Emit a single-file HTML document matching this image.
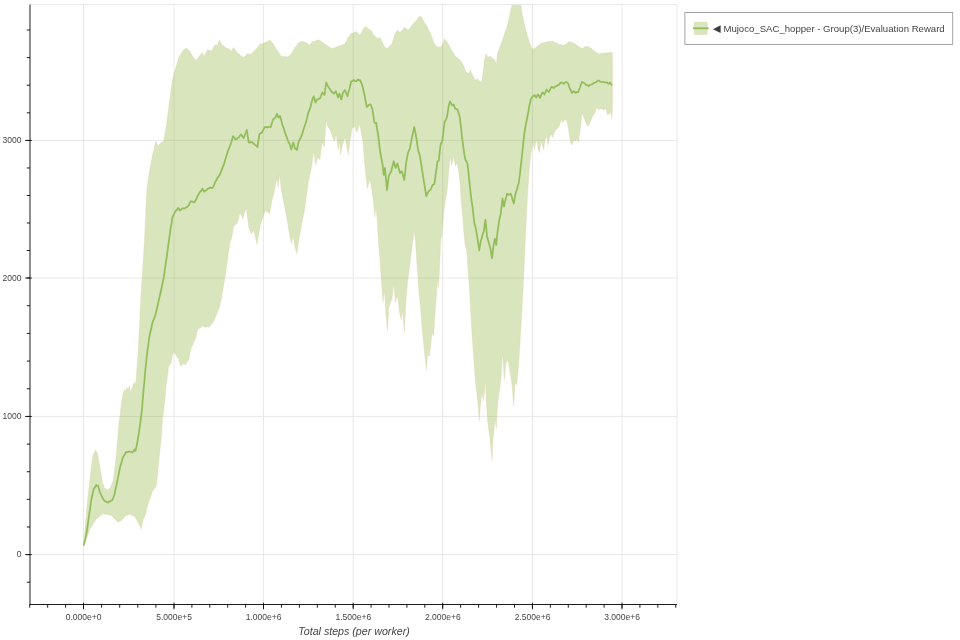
<!DOCTYPE html>
<html><head><meta charset="utf-8"><title>chart</title>
<style>
html,body{margin:0;padding:0;background:#fff;}
body{width:960px;height:640px;overflow:hidden;font-family:"Liberation Sans",sans-serif;}
svg{display:block;will-change:transform;}
text{font-family:"Liberation Sans",sans-serif;fill:#444444;}
.tl{font-size:8.53px;}
.al{font-size:10.67px;font-style:italic;}
.lg{font-size:9.6px;}
</style></head><body>
<svg width="960" height="640" viewBox="0 0 960 640">
<defs><clipPath id="fr"><rect x="30.00" y="4.50" width="647.00" height="600.00"/></clipPath></defs>
<rect x="0" y="0" width="960" height="640" fill="#ffffff"/>

<g stroke="#e5e5e5" stroke-width="0.9" fill="none">
<line x1="83.50" y1="4.5" x2="83.50" y2="604.5"/>
<line x1="174.00" y1="4.5" x2="174.00" y2="604.5"/>
<line x1="263.50" y1="4.5" x2="263.50" y2="604.5"/>
<line x1="353.20" y1="4.5" x2="353.20" y2="604.5"/>
<line x1="442.70" y1="4.5" x2="442.70" y2="604.5"/>
<line x1="532.45" y1="4.5" x2="532.45" y2="604.5"/>
<line x1="622.00" y1="4.5" x2="622.00" y2="604.5"/>
<line x1="30.0" y1="554.60" x2="677.0" y2="554.60"/>
<line x1="30.0" y1="416.45" x2="677.0" y2="416.45"/>
<line x1="30.0" y1="278.00" x2="677.0" y2="278.00"/>
<line x1="30.0" y1="140.45" x2="677.0" y2="140.45"/>
</g>
<g clip-path="url(#fr)">
<polygon points="83.50,545.50 84.50,534.05 85.50,522.95 86.50,511.39 87.50,500.00 88.75,489.34 90.00,478.18 91.25,467.50 92.12,461.21 93.00,455.00 94.25,452.24 95.50,450.00 96.50,451.42 97.50,453.00 98.75,460.23 100.00,467.50 101.25,475.12 102.50,482.50 103.38,484.91 104.25,487.50 105.33,488.62 106.42,489.08 107.50,490.50 108.50,489.15 109.50,488.51 110.50,487.50 111.42,485.07 112.33,482.80 113.25,480.00 114.25,471.73 115.25,463.46 116.25,455.00 117.50,439.94 118.75,425.00 119.67,417.38 120.60,410.00 121.25,404.82 121.90,400.00 123.10,393.75 123.75,391.39 124.40,389.40 125.60,391.25 126.25,389.25 126.90,387.50 128.10,390.00 128.75,387.51 129.40,385.60 130.25,391.90 131.07,390.56 131.90,388.75 133.10,384.40 134.00,382.50 135.25,384.40 136.25,377.50 136.90,367.50 137.50,360.00 138.10,352.50 138.75,340.00 139.62,321.36 140.50,302.50 141.50,286.32 142.50,270.00 143.50,255.06 144.50,240.00 145.62,214.97 146.75,190.00 148.00,181.16 149.25,172.50 150.33,166.70 151.42,160.82 152.50,155.00 153.58,150.66 154.67,145.95 155.75,141.25 156.88,143.40 158.00,146.25 159.08,144.74 160.17,143.38 161.25,142.50 162.50,141.83 163.75,140.50 165.00,133.27 166.25,126.00 167.50,116.38 168.75,107.00 170.00,97.62 171.25,88.00 172.50,80.00 173.75,74.87 175.00,70.00 176.25,65.98 177.50,61.85 178.75,57.50 180.00,55.17 181.25,53.37 182.50,51.25 183.75,50.04 185.00,48.84 186.25,48.00 187.50,49.31 188.75,50.27 190.00,51.25 191.25,53.79 192.50,56.25 193.58,57.50 194.67,59.06 195.75,60.00 196.75,59.36 197.75,58.23 198.75,57.00 199.83,55.32 200.92,54.27 202.00,52.50 203.25,54.54 204.50,56.25 205.50,53.85 206.50,51.66 207.50,49.50 208.75,50.15 210.00,50.28 211.25,51.25 212.50,49.35 213.75,46.70 215.00,45.00 216.25,44.75 217.50,45.50 218.50,42.79 219.50,40.00 220.62,42.21 221.75,44.50 222.83,45.69 223.92,45.71 225.00,47.00 226.25,47.98 227.50,48.55 228.75,48.75 230.00,49.74 231.25,51.25 232.50,49.03 233.75,47.50 235.00,49.41 236.25,51.25 237.50,52.96 238.75,53.82 240.00,55.00 241.25,56.17 242.50,56.73 243.75,57.50 244.83,56.33 245.92,55.47 247.00,53.75 248.00,53.71 249.00,53.91 250.00,54.50 251.25,53.64 252.50,52.63 253.75,51.25 255.00,49.92 256.25,48.90 257.50,47.50 258.75,46.00 260.00,43.75 261.25,43.88 262.50,43.61 263.75,43.00 265.00,42.75 266.25,42.00 267.33,41.51 268.42,40.69 269.50,40.00 270.50,40.71 271.50,42.16 272.50,43.00 273.50,44.11 274.50,46.23 275.50,47.50 276.58,49.50 277.67,50.78 278.75,52.50 280.00,54.49 281.25,56.25 282.50,56.44 283.75,56.76 285.00,56.25 286.00,56.93 287.00,56.85 288.00,57.00 289.08,56.11 290.17,55.01 291.25,54.50 292.50,51.81 293.75,49.43 295.00,47.50 296.25,46.24 297.50,43.95 298.75,42.50 300.00,42.15 301.25,41.54 302.50,41.25 303.75,41.78 305.00,42.43 306.25,42.50 307.33,43.45 308.42,44.15 309.50,45.00 310.50,43.97 311.50,42.67 312.50,41.25 313.75,41.49 315.00,41.19 316.25,40.50 317.50,39.90 318.75,40.00 320.00,40.28 321.25,41.61 322.50,42.00 323.75,43.28 325.00,43.88 326.25,45.00 327.50,45.50 328.75,46.59 330.00,47.50 331.25,48.03 332.50,48.75 333.75,47.76 335.00,47.72 336.25,47.00 337.50,46.29 338.75,46.27 340.00,45.50 341.12,44.97 342.25,45.38 343.38,44.37 344.50,44.50 345.50,42.18 346.50,41.04 347.50,38.75 348.58,36.76 349.67,35.79 350.75,33.75 352.00,33.15 353.25,32.83 354.50,32.00 355.75,31.76 357.00,32.00 358.00,33.12 359.00,34.17 360.00,35.50 361.00,33.67 362.00,31.74 363.00,29.50 364.25,27.71 365.50,26.25 366.75,27.28 368.00,28.75 369.08,29.22 370.17,29.64 371.25,30.50 372.50,33.15 373.75,35.00 375.00,36.11 376.25,37.31 377.50,38.75 378.75,37.83 380.00,37.50 381.25,39.65 382.50,42.50 383.38,44.69 384.25,46.25 385.17,47.55 386.08,47.83 387.00,48.75 388.25,47.55 389.50,46.25 390.50,45.40 391.50,44.21 392.50,42.50 393.50,38.42 394.50,35.00 395.50,33.09 396.50,31.86 397.50,30.00 398.75,31.42 400.00,32.50 401.25,31.01 402.50,30.00 403.75,28.35 405.00,27.00 406.00,28.61 407.00,29.40 408.00,30.50 409.08,29.06 410.17,28.08 411.25,26.25 412.50,24.87 413.75,23.03 415.00,22.00 416.00,21.08 417.00,19.66 418.00,18.00 418.92,16.96 419.83,16.61 420.75,16.25 421.75,17.51 422.75,19.98 423.75,21.25 424.83,23.29 425.92,24.65 427.00,26.25 428.00,28.62 429.00,30.81 430.00,32.50 431.25,35.49 432.50,38.75 433.75,42.01 435.00,45.00 436.25,45.68 437.50,47.00 438.75,46.82 440.00,47.50 441.25,46.00 442.50,44.50 443.50,41.76 444.50,38.75 445.50,40.00 446.50,41.13 447.50,42.50 448.75,44.80 450.00,47.50 451.00,48.91 452.00,50.55 453.00,52.50 454.08,53.85 455.17,55.89 456.25,57.00 457.50,58.08 458.75,59.09 460.00,60.00 461.25,61.87 462.50,63.75 463.75,66.32 465.00,69.27 466.25,72.50 467.50,72.79 468.75,73.75 469.62,71.65 470.50,70.00 471.50,72.63 472.50,75.00 473.75,77.26 475.00,80.00 476.25,79.72 477.50,78.75 478.75,80.17 480.00,81.25 480.88,82.11 481.75,82.00 482.50,76.21 483.25,70.00 484.50,60.00 485.75,53.75 486.88,55.37 488.00,57.00 489.25,56.81 490.50,56.25 491.75,57.93 493.00,58.75 494.00,59.02 495.00,60.00 496.25,65.00 497.50,53.75 498.75,49.90 500.00,46.25 501.25,43.47 502.50,40.00 503.75,36.11 505.00,32.50 506.25,28.98 507.50,25.00 508.75,19.06 510.00,13.75 511.00,9.03 512.00,4.25 513.00,0.51 514.00,-3.00 515.25,-4.82 516.50,-6.00 517.75,-4.84 519.00,-3.00 519.88,0.57 520.75,4.25 521.62,9.62 522.50,15.00 523.50,19.96 524.50,25.00 525.38,28.20 526.25,31.25 527.12,34.63 528.00,37.50 529.00,40.37 530.00,43.75 531.00,46.39 532.00,48.75 533.12,48.45 534.25,48.75 535.50,47.65 536.75,47.00 537.67,45.71 538.58,45.80 539.50,44.50 540.50,43.66 541.50,43.14 542.50,43.00 543.75,42.40 545.00,42.38 546.25,42.00 547.50,41.54 548.75,42.03 550.00,41.25 551.00,41.50 552.00,40.94 553.00,41.25 554.08,41.93 555.17,42.54 556.25,43.00 557.50,43.22 558.75,44.21 560.00,44.50 561.25,44.84 562.50,44.89 563.75,45.50 564.83,44.50 565.92,44.05 567.00,43.75 568.00,42.46 569.00,41.74 570.00,41.25 571.00,42.12 572.00,42.77 573.00,43.00 574.08,43.00 575.17,44.03 576.25,44.50 577.33,45.79 578.42,46.48 579.50,47.00 580.75,47.93 582.00,48.75 583.25,47.81 584.50,47.00 585.50,46.72 586.50,46.51 587.50,46.25 588.50,46.40 589.50,47.67 590.50,48.00 591.58,48.51 592.67,49.69 593.75,50.50 594.83,51.20 595.92,52.33 597.00,53.00 598.00,52.91 599.00,54.01 600.00,53.75 601.25,53.02 602.50,53.50 603.75,53.00 605.00,52.52 606.25,52.78 607.50,53.00 608.75,52.49 610.00,52.50 611.25,52.55 612.50,53.00 612.50,105.00 612.00,118.75 610.75,111.25 610.00,113.10 609.25,113.75 608.38,114.33 607.50,115.00 606.62,111.95 605.75,108.00 604.75,109.41 603.75,110.00 602.50,109.26 601.25,108.75 600.00,108.92 598.75,110.00 597.88,108.22 597.00,107.50 595.75,110.30 594.50,113.75 593.25,115.36 592.00,117.50 591.00,120.16 590.00,122.50 589.00,124.51 588.00,126.25 586.88,124.72 585.75,122.50 584.75,119.78 583.75,117.50 582.88,115.05 582.00,113.75 580.75,125.00 579.50,135.00 578.25,142.50 577.00,138.75 576.25,139.71 575.50,141.25 574.62,140.20 573.75,140.00 572.88,142.32 572.00,145.00 570.75,142.50 569.50,136.25 568.25,127.50 567.00,121.25 566.00,119.74 565.00,119.50 564.00,121.00 563.00,122.50 562.12,120.77 561.25,120.00 560.00,123.75 559.12,125.87 558.25,127.50 557.25,128.73 556.25,128.75 555.38,130.81 554.50,132.50 553.50,134.93 552.50,137.50 551.25,133.75 550.38,136.03 549.50,137.50 548.75,141.14 548.00,145.00 546.75,136.25 545.88,138.43 545.00,140.00 543.75,150.00 542.50,145.00 541.62,142.85 540.75,141.25 539.50,152.50 538.25,150.00 537.00,140.00 535.75,142.50 535.00,145.99 534.25,150.00 533.00,141.25 531.75,150.00 530.75,154.00 530.00,162.22 529.25,170.00 528.38,182.40 527.50,195.00 526.25,220.00 525.00,247.50 523.75,277.50 522.50,300.00 521.50,320.00 520.50,335.00 519.50,352.50 518.75,362.57 518.00,372.50 516.75,385.00 515.88,384.26 515.00,382.50 513.75,406.25 512.88,395.69 512.00,385.00 511.25,379.89 510.50,375.00 509.62,369.57 508.75,363.75 507.88,361.29 507.00,360.00 505.75,365.00 505.00,372.62 504.25,380.00 503.38,366.40 502.50,352.50 501.25,375.00 500.00,387.50 498.75,395.00 497.50,407.50 496.25,428.75 495.00,418.75 494.00,430.00 493.00,440.00 492.00,460.75 491.00,450.00 490.00,440.00 488.75,430.00 487.50,420.00 486.50,405.00 485.50,381.25 484.50,391.25 483.25,401.25 482.00,391.25 481.25,398.09 480.50,405.00 479.25,421.25 478.00,405.00 477.00,395.00 476.25,388.93 475.50,382.50 474.50,370.00 473.25,352.50 472.00,335.00 470.75,312.50 470.07,300.74 469.40,289.00 468.10,271.00 467.43,260.91 466.75,251.25 465.88,247.88 465.00,244.00 463.75,231.00 462.50,215.00 461.25,202.50 460.00,182.00 458.75,172.50 457.88,167.32 457.00,162.50 456.25,164.32 455.50,166.25 454.62,161.23 453.75,156.25 452.75,160.90 451.75,165.00 450.88,160.23 450.00,156.25 448.75,172.50 447.50,187.50 446.50,193.88 445.50,200.00 444.62,206.02 443.75,212.50 442.88,223.88 442.00,235.00 440.75,240.00 439.50,270.00 438.50,287.50 437.50,280.00 436.25,297.50 435.00,315.00 433.75,336.25 432.50,332.50 431.25,340.00 430.38,347.99 429.50,356.25 428.50,355.43 427.50,355.00 426.50,370.00 425.50,362.50 424.62,354.03 423.75,345.00 422.88,336.36 422.00,327.50 421.25,317.58 420.50,307.50 419.62,298.83 418.75,290.00 417.88,277.34 417.00,265.00 416.25,253.30 415.50,242.00 414.25,230.00 413.50,236.12 412.75,242.00 412.00,247.88 411.25,254.00 410.25,261.73 409.25,270.00 408.38,276.38 407.50,282.50 406.62,293.77 405.75,305.00 405.00,318.61 404.25,332.50 403.38,321.40 402.50,310.00 401.25,320.00 400.38,316.62 399.50,312.50 398.50,303.66 397.50,295.00 396.50,298.77 395.50,302.50 394.62,292.98 393.75,283.75 392.88,291.20 392.00,298.75 391.25,300.65 390.50,302.50 389.62,305.45 388.75,307.50 387.50,331.25 386.62,322.01 385.75,312.50 384.50,290.00 383.75,296.02 383.00,302.50 382.12,291.32 381.25,280.00 380.00,260.00 379.25,251.32 378.50,243.00 377.25,221.00 376.00,205.00 374.75,217.50 374.00,208.62 373.25,200.00 372.50,194.93 371.75,190.00 370.88,184.67 370.00,178.75 368.75,183.39 367.50,188.75 366.62,181.69 365.75,175.00 365.00,166.98 364.25,158.75 363.00,142.50 362.12,137.87 361.25,132.50 360.38,128.16 359.50,124.25 358.25,127.92 357.00,132.50 355.75,129.88 354.50,126.25 353.25,127.57 352.00,128.75 351.00,135.12 350.00,141.25 349.12,147.94 348.25,155.00 347.50,150.51 346.75,146.25 345.88,141.71 345.00,137.50 343.75,141.22 342.50,145.00 341.62,149.98 340.75,155.00 339.50,141.25 338.25,150.00 337.25,142.20 336.25,133.75 335.38,137.63 334.50,141.25 333.50,138.94 332.50,137.50 331.25,133.32 330.00,130.00 328.75,127.73 327.50,126.25 326.25,119.50 325.25,133.42 324.25,147.00 323.12,144.44 322.00,142.50 321.00,150.95 320.00,159.50 318.75,158.58 317.50,157.50 316.62,161.33 315.75,165.00 314.75,157.99 313.75,151.25 312.50,160.19 311.25,168.75 310.00,174.37 308.75,180.00 307.50,188.87 306.25,197.50 305.38,203.83 304.50,210.00 303.50,215.27 302.50,220.00 301.50,225.61 300.50,231.25 299.62,235.27 298.75,240.00 297.88,247.12 297.00,253.75 296.00,250.84 295.00,247.50 294.00,241.45 293.00,236.25 292.12,240.48 291.25,243.75 290.00,236.79 288.75,230.00 287.50,222.37 286.25,215.00 285.00,208.78 283.75,202.50 282.50,195.90 281.25,190.00 280.38,182.01 279.50,174.50 278.75,180.91 278.00,187.50 277.00,177.50 276.08,181.73 275.17,186.80 274.25,191.25 273.12,196.05 272.00,200.00 270.75,207.31 269.50,213.75 268.38,212.89 267.25,211.86 266.12,211.47 265.00,211.25 264.00,213.75 263.00,217.03 262.00,220.00 261.00,223.42 260.00,227.50 259.00,233.52 258.00,238.41 257.00,244.50 255.92,239.52 254.83,235.05 253.75,230.00 252.50,232.48 251.25,233.75 250.00,230.58 248.75,227.50 247.50,217.51 246.25,207.50 245.17,210.97 244.08,214.53 243.00,218.75 242.00,217.05 241.00,214.84 240.00,213.00 238.75,217.61 237.50,222.50 236.25,224.30 235.00,224.69 233.75,226.25 232.50,233.01 231.25,240.00 230.00,242.00 228.75,250.78 227.50,260.00 226.25,268.90 225.00,277.50 223.75,285.23 222.50,292.50 221.50,297.19 220.50,302.34 219.50,307.50 218.42,309.74 217.33,313.01 216.25,315.00 215.00,317.66 213.75,321.25 212.50,323.17 211.25,324.42 210.00,326.25 208.75,327.30 207.50,326.62 206.25,327.17 205.00,327.50 204.00,326.61 203.00,326.01 202.00,326.25 200.88,327.68 199.75,328.49 198.62,328.36 197.50,330.00 196.25,335.47 195.00,340.00 193.75,342.16 192.50,345.52 191.25,347.50 190.00,353.30 188.75,360.00 187.67,361.15 186.58,363.29 185.50,365.00 184.25,363.87 183.00,363.75 181.88,365.29 180.75,366.25 179.62,362.98 178.50,358.75 177.70,357.99 176.90,356.90 176.25,355.65 175.60,354.40 174.68,353.54 173.75,351.50 173.00,353.78 172.25,356.25 171.25,362.50 170.00,364.40 169.25,365.41 168.50,367.50 167.50,376.25 166.25,385.00 165.00,400.00 163.75,410.00 162.50,420.00 161.25,437.50 160.38,446.21 159.50,455.00 158.50,465.10 157.50,475.00 156.50,485.00 155.75,486.56 155.00,488.00 153.75,489.12 152.50,491.25 151.25,495.33 150.00,498.75 149.00,501.30 148.00,504.88 147.00,507.50 146.25,511.45 145.50,515.00 144.25,517.41 143.00,520.00 142.12,524.53 141.25,529.25 140.00,526.33 138.75,523.71 137.50,521.25 136.25,519.15 135.00,516.99 133.75,515.50 132.50,515.62 131.25,514.91 130.00,514.25 128.75,514.47 127.50,515.43 126.25,515.00 125.00,516.63 123.75,517.72 122.50,519.50 121.25,520.71 120.00,520.87 118.75,521.90 117.50,521.75 116.25,520.86 115.00,518.90 113.75,518.25 112.50,516.25 111.25,515.69 110.00,514.67 108.75,515.37 107.50,514.50 106.25,514.03 105.00,514.90 103.75,513.53 102.50,514.00 101.25,515.64 100.00,515.22 98.75,517.48 97.50,518.47 96.25,518.75 95.00,520.99 93.75,523.07 92.50,525.00 91.25,527.22 90.00,528.75 88.75,532.38 87.50,536.00 86.50,537.82 85.50,540.75 84.50,542.85 83.50,545.50" fill="rgb(144,181,66)" fill-opacity="0.35" stroke="#e8c9a0" stroke-opacity="0.5" stroke-width="0.5"/>
<polyline points="83.75,545.50 85.00,540.32 86.25,535.00 87.50,526.26 88.75,517.50 90.00,509.03 91.25,500.00 92.50,494.31 93.75,488.75 95.00,487.36 96.25,485.00 97.12,485.84 98.00,485.75 99.00,489.11 100.00,492.50 101.25,495.21 102.50,497.73 103.75,500.00 104.81,501.06 105.88,501.47 106.94,502.24 108.00,502.50 109.00,501.68 110.00,501.48 111.00,500.67 112.00,500.50 113.25,497.84 114.50,494.50 115.50,489.38 116.50,485.13 117.50,480.00 118.75,473.80 120.00,467.50 121.00,464.12 122.00,460.68 123.00,457.00 124.08,455.56 125.17,453.80 126.25,452.00 127.50,452.12 128.75,451.68 130.00,451.75 131.25,451.84 132.50,452.50 133.50,451.49 134.50,449.50 135.50,450.75 136.50,446.40 137.50,441.25 138.75,433.32 140.00,425.00 140.95,417.71 141.90,410.00 143.10,395.00 143.75,387.98 144.40,381.25 145.60,367.50 146.25,361.54 146.90,355.00 148.10,346.25 149.25,337.50 150.33,332.28 151.42,327.72 152.50,322.50 153.58,319.85 154.67,316.87 155.75,313.75 156.81,308.79 157.88,304.56 158.94,299.57 160.00,295.00 161.25,289.50 162.50,283.52 163.75,277.50 164.83,270.14 165.92,262.27 167.00,255.00 168.00,247.29 169.00,240.00 169.88,234.08 170.75,227.50 171.62,222.56 172.50,217.00 173.75,214.84 175.00,212.00 176.00,210.49 177.00,209.78 178.00,208.00 179.00,208.97 180.00,210.50 181.25,209.40 182.50,208.39 183.75,208.25 184.81,208.36 185.88,207.57 186.94,206.95 188.00,206.25 188.92,204.94 189.83,202.66 190.75,201.25 191.92,201.43 193.08,202.04 194.25,202.50 195.33,200.81 196.42,198.78 197.50,196.25 198.50,194.34 199.50,192.82 200.50,191.25 201.50,190.56 202.50,188.75 203.38,190.25 204.25,191.75 205.33,190.61 206.42,190.26 207.50,188.75 208.60,188.73 209.70,187.65 210.80,187.63 211.90,188.16 213.00,187.50 214.25,184.43 215.50,181.25 216.50,180.08 217.50,177.66 218.50,176.55 219.50,175.00 220.56,172.77 221.62,170.12 222.69,167.12 223.75,165.00 225.00,160.51 226.25,156.60 227.50,152.50 228.75,149.18 230.00,145.81 231.25,142.50 232.12,139.50 233.00,136.25 234.25,137.41 235.50,139.50 236.58,139.03 237.67,138.03 238.75,137.50 240.00,135.60 241.25,134.50 242.50,136.78 243.75,138.00 244.75,134.92 245.75,132.92 246.75,130.00 247.75,136.20 248.75,142.50 249.83,142.62 250.92,142.15 252.00,142.00 253.00,143.44 254.00,143.66 255.00,145.00 256.25,145.53 257.50,147.00 258.50,140.05 259.50,133.75 260.75,133.41 262.00,132.50 263.00,130.23 264.00,128.42 265.00,127.00 266.25,126.91 267.50,127.50 268.58,126.91 269.67,126.84 270.75,127.00 271.88,123.31 273.00,119.50 274.00,118.80 275.00,118.00 276.00,116.40 277.00,113.75 278.25,117.50 279.12,116.86 280.00,116.00 281.25,120.38 282.50,125.00 283.75,128.41 285.00,132.50 286.25,136.01 287.50,139.50 288.50,142.02 289.50,143.75 290.38,146.21 291.25,149.50 292.25,145.68 293.25,142.50 294.12,145.23 295.00,148.75 296.00,148.94 297.00,150.00 297.88,145.35 298.75,141.25 299.75,139.53 300.75,137.75 301.88,134.92 303.00,131.25 304.25,127.25 305.50,123.75 306.75,119.13 308.00,113.75 309.25,110.42 310.50,107.00 311.50,102.73 312.50,99.00 313.75,96.25 314.62,99.59 315.50,102.50 316.50,100.78 317.50,99.00 318.75,98.92 320.00,98.50 321.25,95.01 322.50,92.50 323.50,93.75 324.50,95.00 325.38,88.50 326.25,82.50 327.50,85.41 328.75,87.50 330.00,89.27 331.25,91.25 332.50,92.41 333.75,93.75 334.75,92.65 335.75,91.25 336.88,94.14 338.00,97.50 338.75,95.26 339.50,93.75 340.38,96.35 341.25,99.50 342.12,96.35 343.00,92.50 344.00,91.42 345.00,90.00 346.25,93.57 347.50,96.25 348.50,92.12 349.50,88.75 350.38,84.98 351.25,81.25 352.50,81.07 353.75,80.00 355.00,81.09 356.25,81.25 357.12,80.36 358.00,79.50 359.00,80.32 360.00,80.00 361.25,82.80 362.50,86.25 363.50,90.43 364.50,95.00 365.62,101.18 366.75,107.00 367.75,106.11 368.75,105.00 369.75,104.28 370.75,104.50 371.62,107.09 372.50,109.50 373.38,115.52 374.25,122.00 375.25,123.05 376.25,123.00 377.25,129.51 378.25,136.00 379.25,144.20 380.25,152.50 381.38,158.50 382.50,164.00 383.75,175.00 385.00,168.00 386.00,179.05 387.00,190.00 387.88,182.85 388.75,176.25 390.00,173.48 391.25,171.25 392.50,166.04 393.75,161.25 394.62,164.23 395.50,168.00 396.50,165.33 397.50,163.50 398.75,168.59 400.00,173.00 400.88,172.07 401.75,171.25 403.00,175.57 404.25,180.00 405.25,171.27 406.25,162.00 407.12,157.17 408.00,153.00 408.88,150.70 409.75,149.00 410.88,143.15 412.00,137.50 413.12,132.08 414.25,127.00 415.25,132.33 416.25,137.50 417.25,144.02 418.25,151.00 419.12,153.18 420.00,156.25 421.25,164.08 422.50,172.50 423.50,178.97 424.50,185.00 425.38,190.35 426.25,196.25 427.50,193.46 428.75,191.25 429.62,190.30 430.50,190.00 431.50,187.51 432.50,185.00 433.50,184.59 434.50,183.75 435.38,176.57 436.25,170.00 437.50,161.25 438.75,161.00 439.62,152.76 440.50,145.00 441.50,142.72 442.50,140.00 443.50,131.01 444.50,122.50 445.75,119.96 447.00,117.00 447.88,111.42 448.75,105.50 450.00,101.50 451.00,103.33 452.00,105.50 452.88,105.20 453.75,104.50 454.62,107.16 455.50,109.00 456.50,109.08 457.50,109.50 458.62,113.28 459.75,117.00 460.50,123.21 461.25,130.00 462.12,137.77 463.00,145.00 463.75,149.90 464.50,155.00 465.50,160.00 466.50,161.48 467.50,163.75 468.38,171.86 469.25,180.00 470.25,189.23 471.25,198.75 472.00,203.60 472.75,208.50 473.57,215.88 474.40,223.75 475.20,226.15 476.00,229.00 476.75,233.94 477.50,239.50 478.38,244.71 479.25,250.25 480.00,245.63 480.75,241.25 481.62,238.41 482.50,235.25 483.75,231.25 484.62,225.75 485.50,219.75 486.25,227.83 487.00,236.25 487.88,239.40 488.75,242.50 489.62,245.68 490.50,248.75 491.25,253.80 492.00,258.25 492.88,251.25 493.75,243.75 495.00,238.75 496.25,245.00 497.50,232.00 498.38,226.14 499.25,220.00 500.00,216.74 500.75,214.00 501.62,206.13 502.50,198.50 503.25,202.86 504.00,206.50 504.75,203.11 505.50,199.50 506.25,197.05 507.00,193.75 507.88,193.99 508.75,194.75 509.75,194.19 510.75,193.75 511.62,196.41 512.50,199.50 513.75,203.50 514.62,198.44 515.50,193.75 516.25,191.20 517.00,189.50 517.88,185.91 518.75,183.00 520.00,173.75 521.25,162.00 522.50,150.50 523.50,141.00 524.50,132.50 525.75,125.00 526.62,120.62 527.50,116.25 528.38,111.54 529.25,106.25 530.00,102.93 530.75,99.50 531.62,97.77 532.50,97.00 533.50,95.62 534.50,95.00 535.38,96.38 536.25,97.50 537.12,95.92 538.00,94.50 539.00,95.88 540.00,98.00 541.25,94.92 542.50,92.50 543.50,93.06 544.50,94.50 545.50,92.14 546.50,89.50 547.62,90.78 548.75,92.00 550.00,89.75 551.25,87.00 552.50,87.22 553.75,88.00 555.00,86.56 556.25,86.25 557.50,85.34 558.75,85.00 560.00,83.32 561.25,82.50 562.50,83.02 563.75,83.75 565.00,82.58 566.25,82.00 567.25,82.46 568.25,83.75 569.12,86.73 570.00,88.75 571.00,90.63 572.00,93.00 572.88,91.96 573.75,91.25 574.75,91.89 575.75,93.00 577.00,92.00 578.25,92.00 579.12,89.50 580.00,87.50 581.00,84.52 582.00,82.00 583.12,82.49 584.25,83.00 585.25,84.06 586.25,85.00 587.50,85.02 588.75,86.25 590.00,84.95 591.25,84.50 592.50,83.95 593.75,83.00 595.00,82.58 596.25,82.00 597.25,81.16 598.25,80.50 599.38,80.79 600.50,82.00 601.58,82.08 602.67,81.95 603.75,82.00 605.00,82.49 606.25,82.50 607.25,82.49 608.25,83.75 609.12,83.66 610.00,82.50 611.00,84.04 612.00,85.50" fill="none" stroke="#93bd5b" stroke-width="1.75" stroke-linejoin="round" stroke-linecap="butt"/>
</g>
<g stroke="#e5e5e5" stroke-width="0.9" fill="none">
<line x1="30.0" y1="4.5" x2="677.0" y2="4.5"/>
<line x1="677.0" y1="4.5" x2="677.0" y2="604.5"/>
</g>
<g stroke="#111111" stroke-width="0.95" fill="none">
<line x1="30.0" y1="4.5" x2="30.0" y2="604.95"/>
<line x1="29.55" y1="604.5" x2="677.0" y2="604.5"/>
<line x1="29.74" y1="604.5" x2="29.74" y2="607.70"/>
<line x1="47.66" y1="604.5" x2="47.66" y2="607.70"/>
<line x1="65.58" y1="604.5" x2="65.58" y2="607.70"/>
<line x1="83.50" y1="604.5" x2="83.50" y2="607.70"/>
<line x1="101.60" y1="604.5" x2="101.60" y2="607.70"/>
<line x1="119.70" y1="604.5" x2="119.70" y2="607.70"/>
<line x1="137.80" y1="604.5" x2="137.80" y2="607.70"/>
<line x1="155.90" y1="604.5" x2="155.90" y2="607.70"/>
<line x1="174.00" y1="604.5" x2="174.00" y2="607.70"/>
<line x1="191.90" y1="604.5" x2="191.90" y2="607.70"/>
<line x1="209.80" y1="604.5" x2="209.80" y2="607.70"/>
<line x1="227.70" y1="604.5" x2="227.70" y2="607.70"/>
<line x1="245.60" y1="604.5" x2="245.60" y2="607.70"/>
<line x1="263.50" y1="604.5" x2="263.50" y2="607.70"/>
<line x1="281.44" y1="604.5" x2="281.44" y2="607.70"/>
<line x1="299.38" y1="604.5" x2="299.38" y2="607.70"/>
<line x1="317.32" y1="604.5" x2="317.32" y2="607.70"/>
<line x1="335.26" y1="604.5" x2="335.26" y2="607.70"/>
<line x1="353.20" y1="604.5" x2="353.20" y2="607.70"/>
<line x1="371.10" y1="604.5" x2="371.10" y2="607.70"/>
<line x1="389.00" y1="604.5" x2="389.00" y2="607.70"/>
<line x1="406.90" y1="604.5" x2="406.90" y2="607.70"/>
<line x1="424.80" y1="604.5" x2="424.80" y2="607.70"/>
<line x1="442.70" y1="604.5" x2="442.70" y2="607.70"/>
<line x1="460.65" y1="604.5" x2="460.65" y2="607.70"/>
<line x1="478.60" y1="604.5" x2="478.60" y2="607.70"/>
<line x1="496.55" y1="604.5" x2="496.55" y2="607.70"/>
<line x1="514.50" y1="604.5" x2="514.50" y2="607.70"/>
<line x1="532.45" y1="604.5" x2="532.45" y2="607.70"/>
<line x1="550.36" y1="604.5" x2="550.36" y2="607.70"/>
<line x1="568.27" y1="604.5" x2="568.27" y2="607.70"/>
<line x1="586.18" y1="604.5" x2="586.18" y2="607.70"/>
<line x1="604.09" y1="604.5" x2="604.09" y2="607.70"/>
<line x1="622.00" y1="604.5" x2="622.00" y2="607.70"/>
<line x1="639.92" y1="604.5" x2="639.92" y2="607.70"/>
<line x1="657.84" y1="604.5" x2="657.84" y2="607.70"/>
<line x1="675.76" y1="604.5" x2="675.76" y2="607.70"/>
<line x1="83.50" y1="602.70" x2="83.50" y2="609.30"/>
<line x1="174.00" y1="602.70" x2="174.00" y2="609.30"/>
<line x1="263.50" y1="602.70" x2="263.50" y2="609.30"/>
<line x1="353.20" y1="602.70" x2="353.20" y2="609.30"/>
<line x1="442.70" y1="602.70" x2="442.70" y2="609.30"/>
<line x1="532.45" y1="602.70" x2="532.45" y2="609.30"/>
<line x1="622.00" y1="602.70" x2="622.00" y2="609.30"/>
<line x1="26.80" y1="582.21" x2="30.0" y2="582.21"/>
<line x1="26.80" y1="554.60" x2="30.0" y2="554.60"/>
<line x1="26.80" y1="526.97" x2="30.0" y2="526.97"/>
<line x1="26.80" y1="499.34" x2="30.0" y2="499.34"/>
<line x1="26.80" y1="471.71" x2="30.0" y2="471.71"/>
<line x1="26.80" y1="444.08" x2="30.0" y2="444.08"/>
<line x1="26.80" y1="416.45" x2="30.0" y2="416.45"/>
<line x1="26.80" y1="388.76" x2="30.0" y2="388.76"/>
<line x1="26.80" y1="361.07" x2="30.0" y2="361.07"/>
<line x1="26.80" y1="333.38" x2="30.0" y2="333.38"/>
<line x1="26.80" y1="305.69" x2="30.0" y2="305.69"/>
<line x1="26.80" y1="278.00" x2="30.0" y2="278.00"/>
<line x1="26.80" y1="250.49" x2="30.0" y2="250.49"/>
<line x1="26.80" y1="222.98" x2="30.0" y2="222.98"/>
<line x1="26.80" y1="195.47" x2="30.0" y2="195.47"/>
<line x1="26.80" y1="167.96" x2="30.0" y2="167.96"/>
<line x1="26.80" y1="140.45" x2="30.0" y2="140.45"/>
<line x1="26.80" y1="112.84" x2="30.0" y2="112.84"/>
<line x1="26.80" y1="85.23" x2="30.0" y2="85.23"/>
<line x1="26.80" y1="57.62" x2="30.0" y2="57.62"/>
<line x1="26.80" y1="30.01" x2="30.0" y2="30.01"/>
<line x1="25.20" y1="554.60" x2="31.80" y2="554.60"/>
<line x1="25.20" y1="416.45" x2="31.80" y2="416.45"/>
<line x1="25.20" y1="278.00" x2="31.80" y2="278.00"/>
<line x1="25.20" y1="140.45" x2="31.80" y2="140.45"/>
</g>
<text class="tl" x="83.65" y="620" text-anchor="middle">0.000e+0</text>
<text class="tl" x="174.15" y="620" text-anchor="middle">5.000e+5</text>
<text class="tl" x="263.65" y="620" text-anchor="middle">1.000e+6</text>
<text class="tl" x="353.35" y="620" text-anchor="middle">1.500e+6</text>
<text class="tl" x="442.85" y="620" text-anchor="middle">2.000e+6</text>
<text class="tl" x="532.60" y="620" text-anchor="middle">2.500e+6</text>
<text class="tl" x="622.15" y="620" text-anchor="middle">3.000e+6</text>
<text class="tl" x="21.5" y="557.35" text-anchor="end">0</text>
<text class="tl" x="21.5" y="419.20" text-anchor="end">1000</text>
<text class="tl" x="21.5" y="280.75" text-anchor="end">2000</text>
<text class="tl" x="21.5" y="143.20" text-anchor="end">3000</text>
<text class="al" x="354.0" y="634.5" text-anchor="middle">Total steps (per worker)</text>
<rect x="684.9" y="12.5" width="267.8" height="31.9" fill="#ffffff" fill-opacity="0.95" stroke="#9a9a9a" stroke-width="0.9"/>
<rect x="694.1" y="22" width="13.3" height="12.8" fill="#d8e5bd" stroke="#ead9b4" stroke-opacity="0.6" stroke-width="0.4"/>
<line x1="693" y1="28.3" x2="708.7" y2="28.3" stroke="#93bd5b" stroke-width="1.8"/>
<polygon points="713.0,29.2 720.6,25.3 720.6,33.0" fill="#3c3c3c"/>
<text class="lg" x="723.4" y="32" >Mujoco_SAC_hopper - Group(3)/Evaluation Reward</text>
</svg></body></html>
